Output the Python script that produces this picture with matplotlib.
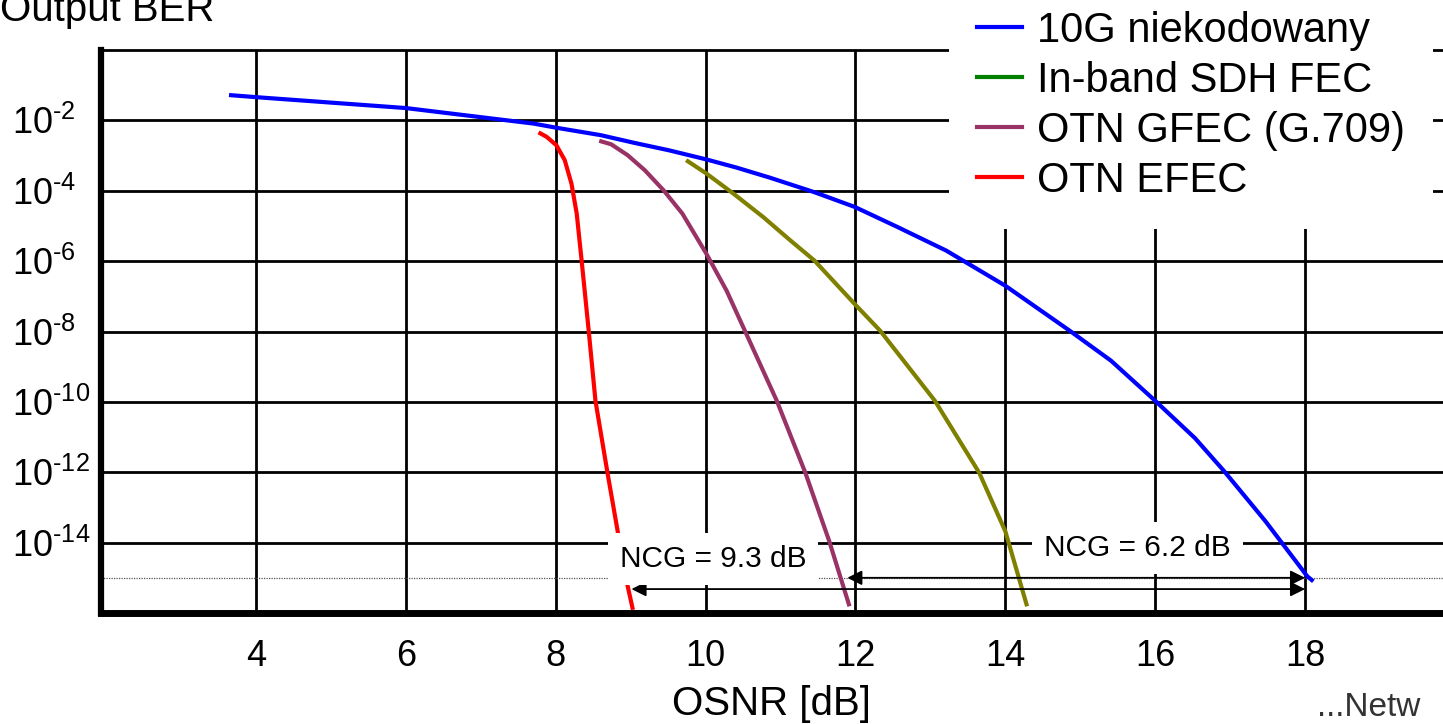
import numpy as np
import matplotlib
matplotlib.use('Agg')
import matplotlib.pyplot as plt
from matplotlib.lines import Line2D

plt.rcParams['font.family'] = ['Liberation Sans', 'DejaVu Sans']
plt.rcParams['mathtext.fontset'] = 'custom'
plt.rcParams['mathtext.rm'] = 'Liberation Sans'
plt.rcParams['mathtext.it'] = 'Liberation Sans:italic'
plt.rcParams['mathtext.bf'] = 'Liberation Sans:bold'

# values: OSNR [dB] and log10(BER)
uncoded_osnr = [3.64, 4.0, 6.0, 7.70, 8.01, 8.60, 9.05, 9.51, 10.01, 10.41, 10.86, 11.45, 11.99,
                12.56, 13.21, 14.0, 14.86, 15.41, 16.0, 16.53, 16.92, 17.47, 18.03, 18.11]
uncoded_exp = [-1.28, -1.34, -1.65, -2.09, -2.21, -2.42, -2.64, -2.85, -3.11, -3.34, -3.63, -4.04, -4.46,
               -5.03, -5.70, -6.70, -7.98, -8.83, -9.97, -11.03, -11.97, -13.39, -14.96, -15.10]

sdh_osnr = [9.74, 10.01, 10.37, 10.77, 11.13, 11.45, 11.99, 12.33, 13.06, 13.65, 14.0, 14.29]
sdh_exp = [-3.13, -3.51, -4.08, -4.75, -5.41, -5.98, -7.22, -7.98, -9.97, -12.01, -13.68, -15.81]

gfec_osnr = [8.58, 8.74, 8.96, 9.19, 9.44, 9.69, 10.01, 10.28, 10.95, 11.33, 11.65, 11.92]
gfec_exp = [-2.58, -2.68, -2.99, -3.42, -3.99, -4.65, -5.79, -6.84, -9.97, -12.01, -13.96, -15.81]

efec_osnr = [7.77, 7.88, 8.01, 8.12, 8.21, 8.28, 8.35, 8.44, 8.53, 8.69, 8.83, 8.96, 9.03]
efec_exp = [-2.34, -2.47, -2.71, -3.13, -3.80, -4.65, -6.08, -7.98, -9.97, -12.01, -13.72, -15.24, -15.91]

labels = ['10G niekodowany', 'In-band SDH FEC', 'OTN GFEC (G.709)', 'OTN EFEC']
legend_colors = ['#0000ff', '#008000', '#993366', '#ff0000']
line_colors = ['#0000ff', '#808000', '#993366', '#ff0000']

xticks = [4, 6, 8, 10, 12, 14, 16, 18]
yexps = [-2, -4, -6, -8, -10, -12, -14]

fig = plt.figure(figsize=(14.43, 7.24), dpi=100)
ax = fig.add_axes([100.5 / 1443, 1 - 613 / 724, (1443 - 100.5) / 1443, (613 - 50) / 724])
ax.set_yscale('log')
ax.set_xlim(1.925, 19.84)
ax.set_ylim(1e-16, 1)

series = [(uncoded_osnr, uncoded_exp), (sdh_osnr, sdh_exp), (gfec_osnr, gfec_exp), (efec_osnr, efec_exp)]
for (xs, ex), c in zip(series, line_colors):
    ax.plot(xs, 10.0 ** np.array(ex), color=c, lw=3, zorder=3, solid_capstyle='butt',
            solid_joinstyle='round')

ax.set_xticks(xticks)
ax.set_xticklabels([str(t) for t in xticks])
ax.set_yticks([10.0 ** e for e in yexps])
ax.set_yticklabels([r'$10^{\text{%d}}$' % e for e in yexps])
ax.yaxis.set_minor_locator(matplotlib.ticker.NullLocator())
ax.tick_params(axis='both', length=0, labelsize=26)
ax.tick_params(axis='x', pad=19)
ax.tick_params(axis='y', pad=63.5)
for lbl in ax.get_yticklabels():
    lbl.set_horizontalalignment('left')
ax.grid(True, color='black', lw=2)
ax.set_axisbelow(True)

ax.spines['right'].set_visible(False)
ax.spines['top'].set_linewidth(2)
ax.spines['left'].set_linewidth(4.5)
ax.spines['bottom'].set_linewidth(5)

# reference BER level and coding gain arrows
ax.axhline(1e-15, color='#555555', lw=0.9, ls=(0, (1, 1)), zorder=2)
ax.annotate('', xy=(9.01, 10 ** -15.32), xytext=(18.0, 10 ** -15.32),
            arrowprops=dict(arrowstyle='<|-|>', color='black', lw=1.3,
                            mutation_scale=22, shrinkA=0, shrinkB=0), zorder=4)
ax.annotate('', xy=(11.89, 1e-15), xytext=(18.0, 1e-15),
            arrowprops=dict(arrowstyle='<|-|>', color='black', lw=1.3,
                            mutation_scale=22, shrinkA=0, shrinkB=0), zorder=4)
box = dict(facecolor='white', edgecolor='none', boxstyle='square,pad=0.4')
ax.text(10.10, 10 ** -14.47, 'NCG = 9.3 dB', ha='center', va='center', fontsize=21.5, bbox=box, zorder=5)
ax.text(15.76, 10 ** -14.15, 'NCG = 6.2 dB', ha='center', va='center', fontsize=21.5, bbox=box, zorder=5)

handles = [Line2D([], [], color=c, lw=3) for c in legend_colors]
fig.legend(handles, labels, loc='upper left', bbox_to_anchor=(949 / 1443, 1 + 17 / 724),
           fontsize=30, frameon=True, fancybox=False, edgecolor='none', facecolor='white',
           framealpha=1, handlelength=1.08, handletextpad=0.36, labelspacing=0.24,
           borderpad=0.67, borderaxespad=0)

fig.text(0.0, 1 - 21 / 724, 'Output BER', fontsize=29, ha='left', va='baseline')
fig.text(771 / 1443, 1 - 715 / 724, 'OSNR [dB]', fontsize=29, ha='center', va='baseline')
fig.text(1317 / 1443, 1 - 716 / 724, '...Netw', fontsize=24, color='#333333', ha='left', va='baseline')

fig.savefig('out.png', dpi=100)
